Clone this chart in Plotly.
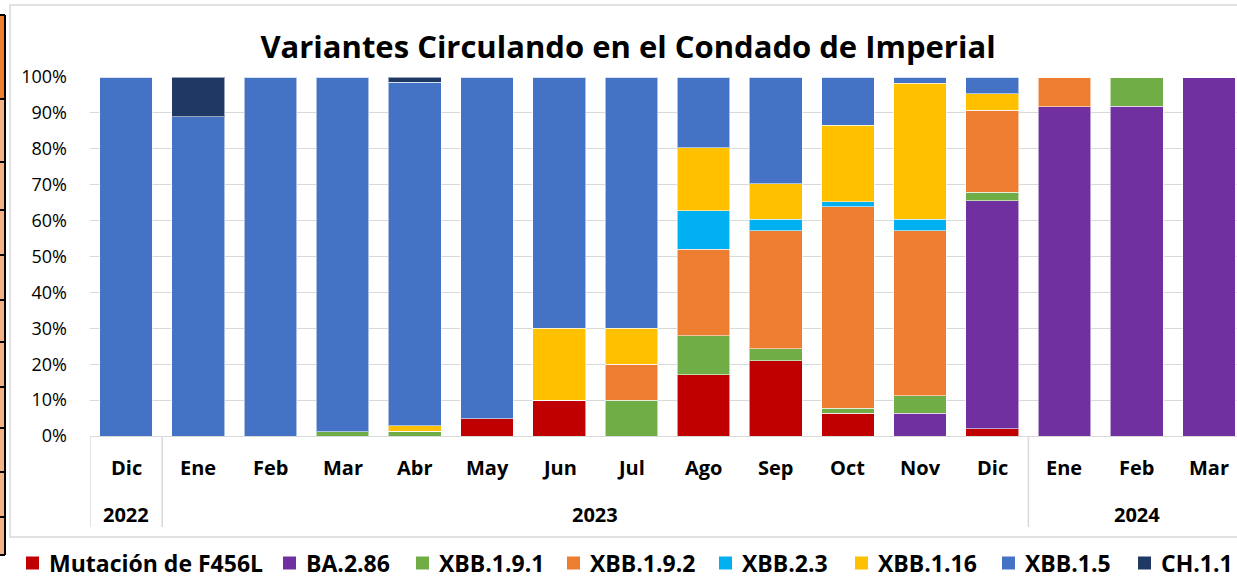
import plotly.graph_objects as go

years = ["2022"] + ["2023"] * 12 + ["2024"] * 3
months = ["Dic", "Ene", "Feb", "Mar", "Abr", "May", "Jun", "Jul", "Ago", "Sep",
          "Oct", "Nov", "Dic", "Ene", "Feb", "Mar"]

f456l =    [0, 0, 0, 0, 0, 4.8, 10, 0, 17.1, 21.0, 6.3, 0, 2.0, 0, 0, 0]
ba286 =    [0, 0, 0, 0, 0, 0, 0, 0, 0, 0, 0, 6.3, 63.6, 91.7, 91.8, 100]
xbb191 =   [0, 0, 0, 1.2, 1.3, 0, 0, 10, 10.8, 3.3, 1.5, 4.9, 2.3, 0, 8.2, 0]
xbb192 =   [0, 0, 0, 0, 0, 0, 0, 10, 24.1, 32.9, 56.1, 46.0, 22.9, 8.3, 0, 0]
xbb23 =    [0, 0, 0, 0, 0, 0, 0, 0, 10.8, 3.2, 1.3, 3.2, 0, 0, 0, 0]
xbb116 =   [0, 0, 0, 0, 1.5, 0, 20, 10, 17.5, 9.9, 21.4, 37.9, 4.6, 0, 0, 0]
xbb15 =    [100, 88.9, 100, 98.8, 95.7, 95.2, 70, 70, 19.7, 29.7, 13.4, 1.7, 4.6, 0, 0, 0]
ch11 =     [0, 11.1, 0, 0, 1.5, 0, 0, 0, 0, 0, 0, 0, 0, 0, 0, 0]

series = [
    ("Mutación de F456L", f456l, "#C00000"),
    ("BA.2.86", ba286, "#7030A0"),
    ("XBB.1.9.1", xbb191, "#70AD47"),
    ("XBB.1.9.2", xbb192, "#ED7D31"),
    ("XBB.2.3", xbb23, "#00B0F0"),
    ("XBB.1.16", xbb116, "#FFC000"),
    ("XBB.1.5", xbb15, "#4472C4"),
    ("CH.1.1", ch11, "#203864"),
]

# layout: left edge (px) of each legend label, in legend order
legend_text_x = [47, 304, 437, 588, 740, 876, 1023, 1159]

FONT = "Open Sans"
W, H = 1237, 579
L, R, T, B = 90, 0, 77, 143
pw, ph = W - L - R, H - T - B

def px(x):
    return (x - L) / pw

def py(y):
    return (H - B - y) / ph

cats = [f"{m} {y}" for m, y in zip(months, years)]

fig = go.Figure()
for name, vals, col in series:
    fig.add_trace(go.Bar(
        x=cats, y=vals, name=name,
        marker=dict(color=col, line=dict(color="rgba(255,255,255,0.55)", width=1)),
        width=0.73, showlegend=False,
    ))

shapes = []
annotations = []

# month labels
for c, m in zip(cats, months):
    annotations.append(dict(x=c, xref="x", y=py(467), yref="paper", text=f"<b>{m}</b>",
                            showarrow=False, xanchor="center", yanchor="middle",
                            font=dict(size=20, family=FONT, color="black")))
# year groups
groups = []
for i, y in enumerate(years):
    if not groups or groups[-1][0] != y:
        groups.append([y, i, i])
    else:
        groups[-1][2] = i
for y, i0, i1 in groups:
    annotations.append(dict(x=(i0 + i1) / 2, xref="x", y=py(514), yref="paper", text=f"<b>{y}</b>",
                            showarrow=False, xanchor="center", yanchor="middle",
                            font=dict(size=20, family=FONT, color="black")))
    shapes.append(dict(type="line", xref="x", yref="paper", x0=i0 - 0.5, x1=i0 - 0.5,
                       y0=0, y1=py(527), line=dict(color="#d9d9d9", width=1.5)))

# legend (squares + labels) below the chart frame
LEG_Y = 563
for (name, _, col), tx in zip(series, legend_text_x):
    shapes.append(dict(type="rect", xref="paper", yref="paper",
                       x0=px(tx - 21), x1=px(tx - 8), y0=py(LEG_Y + 6.5), y1=py(LEG_Y - 6.5),
                       line=dict(width=0), fillcolor=col))
    annotations.append(dict(x=px(tx), xref="paper", y=py(LEG_Y), yref="paper",
                            text=f"<b>{name}</b>", showarrow=False,
                            xanchor="left", yanchor="middle",
                            font=dict(size=23, family=FONT, color="black")))

# outer chart frame
shapes.append(dict(type="rect", xref="paper", yref="paper",
                   x0=px(10), x1=px(1245), y0=py(537), y1=py(5),
                   line=dict(color="#d9d9d9", width=1.5), fillcolor="rgba(0,0,0,0)", layer="below"))
# spreadsheet artifact at the left edge
shapes.append(dict(type="rect", xref="paper", yref="paper",
                   x0=px(-2), x1=px(5), y0=py(555), y1=py(15),
                   line=dict(width=0), fillcolor="#F4B183", layer="below"))
shapes.append(dict(type="rect", xref="paper", yref="paper",
                   x0=px(-2), x1=px(5), y0=py(99), y1=py(15),
                   line=dict(width=0), fillcolor="#ED7D31", layer="below"))
shapes.append(dict(type="line", xref="paper", yref="paper",
                   x0=px(5), x1=px(5), y0=py(555), y1=py(15),
                   line=dict(color="black", width=2)))
for yy in [15, 99, 162, 210, 255, 300, 342, 387, 428, 472, 517, 555]:
    shapes.append(dict(type="line", xref="paper", yref="paper",
                       x0=px(-2), x1=px(5), y0=py(yy), y1=py(yy),
                       line=dict(color="black", width=2)))

fig.update_layout(
    width=W, height=H,
    barmode="stack",
    plot_bgcolor="white", paper_bgcolor="white",
    margin=dict(l=L, r=R, t=T, b=B, autoexpand=False),
    font=dict(family=FONT, color="black"),
    title=dict(text="<b>Variantes Circulando en el Condado de Imperial</b>",
               x=628 / W, xref="container", xanchor="center",
               y=1 - 47 / H, yref="container", yanchor="middle",
               font=dict(size=31, family=FONT, color="black")),
    shapes=shapes,
    annotations=annotations,
    showlegend=False,
)
fig.update_yaxes(range=[0, 100], dtick=10, ticksuffix="%",
                 showgrid=True, gridcolor="#d9d9d9", gridwidth=1.3,
                 zeroline=False, showline=False,
                 tickfont=dict(size=18, family=FONT, color="black"),
                 ticklabelstandoff=22)
fig.update_xaxes(type="category", range=[-0.5, 15.39],
                 showline=True, linecolor="#d9d9d9", linewidth=1.3,
                 showticklabels=False, ticks="")

fig.write_html("out.html", config={"displayModeBar": False},
               post_script="document.body.style.margin='0';document.body.style.padding='0';")
